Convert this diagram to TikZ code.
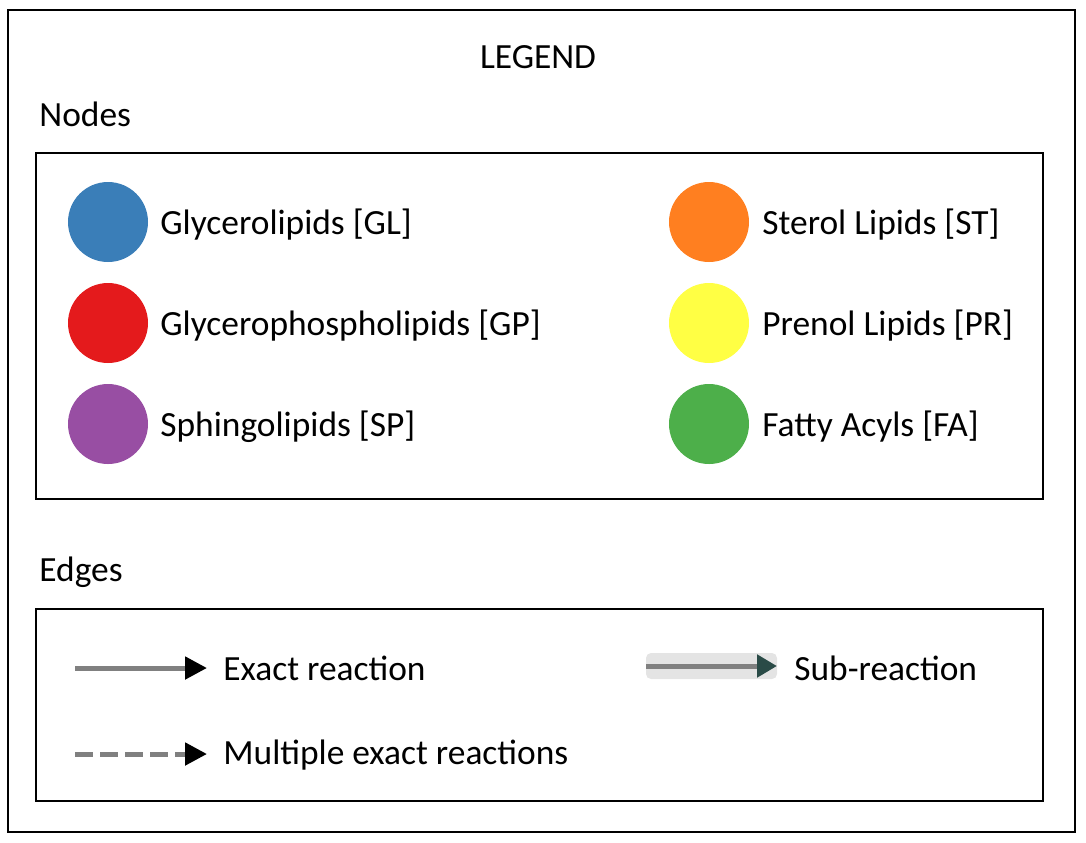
\documentclass[tikz,border=0pt]{standalone}
\usepackage{fontspec}
\setmainfont{Carlito}
\usetikzlibrary{arrows.meta}
\definecolor{cGL}{HTML}{3A7EB8}
\definecolor{cGP}{HTML}{E41A1C}
\definecolor{cSP}{HTML}{984EA3}
\definecolor{cST}{HTML}{FF7F20}
\definecolor{cPR}{HTML}{FFFF44}
\definecolor{cFA}{HTML}{4DAF4A}
\definecolor{edgegray}{HTML}{808080}
\definecolor{subbg}{HTML}{E4E4E4}
\definecolor{subtip}{HTML}{2A4B47}
\tikzset{
  frame/.style={draw=black, line width=1.1pt},
  dot/.style={circle, minimum size=40pt, inner sep=0pt, draw=none},
  lbl/.style={anchor=west, inner sep=0pt, font=\fontsize{17.7pt}{20pt}\selectfont},
  head/.style={anchor=west, inner sep=0pt, font=\fontsize{17.7pt}{20pt}\selectfont},
  edgeline/.style={draw=edgegray, line width=2.5pt, -{Triangle[length=11pt,width=11pt,color=black]}},
}
\begin{document}
\begin{tikzpicture}[x=0.5pt, y=-0.5pt]
\useasboundingbox (0,0) rectangle (1086,842);
\draw[frame] (8,10) rectangle (1075,832);
\node[font=\fontsize{17.7pt}{20pt}\selectfont, inner sep=0pt] (title) at (538,57) {LEGEND};
\node[head] (nodeshead) at (39,114) {Nodes};
\draw[frame] (36,153) rectangle (1043,499);
\node[head] (edgeshead) at (39,572) {Edges};
\draw[frame] (36,609) rectangle (1043,801);
% nodes
\node[dot, fill=cGL] (gl) at (108,222) {};
\node[lbl] (gllbl) at (160,225) {Glycerolipids [GL]};
\node[dot, fill=cGP] (gp) at (108,323) {};
\node[lbl] (gplbl) at (160,326) {Glycerophospholipids [GP]};
\node[dot, fill=cSP] (sp) at (108,424) {};
\node[lbl] (splbl) at (160,427) {Sphingolipids [SP]};
\node[dot, fill=cST] (st) at (709,222) {};
\node[lbl] (stlbl) at (762,225) {Sterol Lipids [ST]};
\node[dot, fill=cPR] (pr) at (709,323) {};
\node[lbl] (prlbl) at (762,326) {Prenol Lipids [PR]};
\node[dot, fill=cFA] (fa) at (709,424) {};
\node[lbl] (falbl) at (762,427) {Fatty Acyls [FA]};
% edges
\coordinate (e1s) at (75,668);
\coordinate (e1e) at (207,668);
\draw[edgeline] (e1s) -- (e1e);
\node[lbl] (e1lbl) at (223,668) {Exact reaction};
\coordinate (e2s) at (75,754);
\coordinate (e2e) at (207,754);
\draw[edgeline, dash pattern=on 9pt off 3.5pt] (e2s) -- (e2e);
\node[lbl] (e2lbl) at (223,755) {Multiple exact reactions};
\fill[subbg, rounded corners=2.5pt] (646,653) rectangle (777,679);
\coordinate (e3s) at (646,666);
\coordinate (e3e) at (777,666);
\draw[draw=edgegray, line width=2.5pt, -{Triangle[length=10pt,width=11pt,color=subtip]}] (e3s) -- (e3e);
\node[lbl] (e3lbl) at (794,668) {Sub-reaction};
\end{tikzpicture}
\end{document}
